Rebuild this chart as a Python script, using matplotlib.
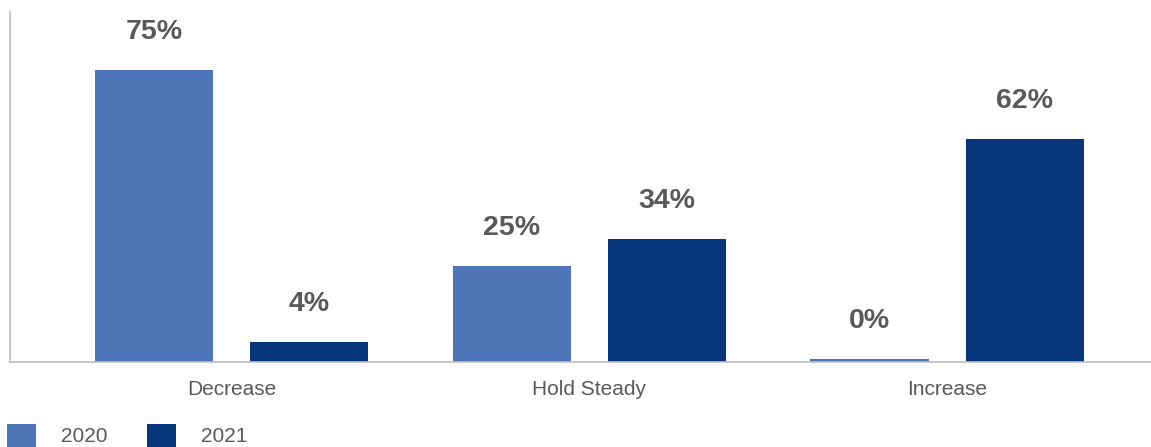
import matplotlib
matplotlib.use("Agg")
import matplotlib.pyplot as plt
import numpy as np

categories = ["Decrease", "Hold Steady", "Increase"]
series_names = ["2020", "2021"]
values_2020 = [75.1, 24.6, 0.7]
values_2021 = [5.1, 31.6, 57.3]
labels_2020 = ["75%", "25%", "0%"]
labels_2021 = ["4%", "34%", "62%"]

colors = ["#4E75B8", "#08367A"]
text_gray = "#595959"

plt.rcParams["font.family"] = ["Liberation Sans", "DejaVu Sans"]

W, H = 1151, 447
fig = plt.figure(figsize=(W / 100, H / 100), dpi=100)
ax = fig.add_axes([9.5 / W, 85.3 / H, (W - 9.5) / W, (361.7 - 12) / H])

x = np.arange(len(categories))
width = 0.33
offset = 0.2167
b1 = ax.bar(x - offset, values_2020, width, color=colors[0], label=series_names[0])
b2 = ax.bar(x + offset, values_2021, width, color=colors[1], label=series_names[1])

for bars, labs in ((b1, labels_2020), (b2, labels_2021)):
    for rect, lab in zip(bars, labs):
        ax.annotate(lab, (rect.get_x() + rect.get_width() / 2, rect.get_height()),
                    xytext=(0, 31 * 0.72), textcoords="offset points",
                    ha="center", va="baseline", fontsize=20.5, fontweight="bold",
                    color=text_gray)

ax.set_xlim(-0.6205, 2.570)
ax.set_ylim(0, 90)
ax.set_xticks(x)
ax.set_xticklabels(categories, fontsize=15, color=text_gray)
ax.tick_params(axis="x", length=0, pad=13.5)
ax.set_yticks([])
for s in ("top", "right"):
    ax.spines[s].set_visible(False)
for s in ("left", "bottom"):
    ax.spines[s].set_color("#BFBFBF")
    ax.spines[s].set_linewidth(1.2)

leg = fig.legend(handles=[b1, b2], labels=series_names, loc="lower left",
                 bbox_to_anchor=(7 / W, 0.5 / H), ncol=2, frameon=False,
                 fontsize=15, handlelength=1.39, handleheight=1.3,
                 handletextpad=1.2, columnspacing=1.92, borderpad=0,
                 borderaxespad=0)
for t in leg.get_texts():
    t.set_color(text_gray)

fig.savefig("out.png", dpi=100)
